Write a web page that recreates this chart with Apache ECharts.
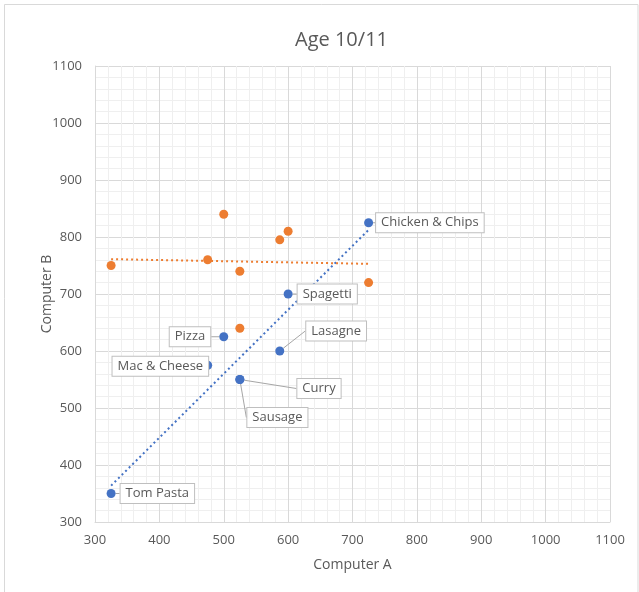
<!DOCTYPE html>
<html>
<head>
<meta charset="utf-8">
<script src="https://cdn.jsdelivr.net/npm/echarts@6/dist/echarts.min.js"></script>
<style>html,body{margin:0;padding:0;background:#fff}#c{width:639px;height:592px}</style>
</head>
<body>
<div id="c"></div>
<script>
const foods = ['Tom Pasta', 'Chicken & Chips', 'Spagetti', 'Lasagne', 'Pizza', 'Mac & Cheese', 'Curry', 'Sausage'];
const computerA = [325, 725, 600, 587, 500, 475, 525, 525];
const computerB = [350, 825, 700, 600, 625, 575, 550, 550];
const otherA = [325, 500, 475, 525, 587, 600, 725, 525];
const otherB = [750, 840, 760, 740, 795, 810, 720, 640];
const axisTicks = [300, 400, 500, 600, 700, 800, 900, 1000, 1100];

// label placement styling (pixel nudges, not data)
const labelStyle = [
  {pos: 'right', dist: 5, dx: 0, dy: 0},
  {pos: 'right', dist: 3, dx: 0, dy: 0},
  {pos: 'right', dist: 5, dx: 0, dy: 0},
  {pos: 'right', dist: 5, dx: 17, dy: -20},
  {pos: 'left', dist: 9, dx: 0, dy: 0},
  {pos: 'left', dist: 5, dx: 10, dy: 1},
  {pos: 'right', dist: 5, dx: 48, dy: 9},
  {pos: 'right', dist: 5, dx: -2, dy: 38}
];

function regression(xs, ys) {
  const n = xs.length;
  const mx = xs.reduce((a, b) => a + b, 0) / n;
  const my = ys.reduce((a, b) => a + b, 0) / n;
  let sxy = 0, sxx = 0;
  for (let i = 0; i < n; i++) { sxy += (xs[i] - mx) * (ys[i] - my); sxx += (xs[i] - mx) ** 2; }
  const m = sxy / sxx, b = my - m * mx;
  const lo = Math.min(...xs), hi = Math.max(...xs);
  return [[lo, m * lo + b], [hi, m * hi + b]];
}

const blue = '#4472C4', orange = '#ED7D31', txt = '#595959';
const font = 'Open Sans';

const blueData = foods.map((f, i) => ({
  name: f,
  value: [computerA[i], computerB[i]],
  label: {position: labelStyle[i].pos, distance: labelStyle[i].dist}
}));
const orangeData = otherA.map((x, i) => [x, otherB[i]]);

const axisCommon = {
  type: 'value', min: axisTicks[0], max: axisTicks[axisTicks.length - 1], interval: 100,
  axisLine: {show: true, lineStyle: {color: '#d9d9d9'}},
  axisTick: {show: false},
  axisLabel: {color: txt, fontSize: 13, fontFamily: font, formatter: v => String(v)},
  splitLine: {show: true, lineStyle: {color: '#d9d9d9', width: 1}},
  minorTick: {show: false, splitNumber: 5},
  minorSplitLine: {show: true, lineStyle: {color: '#efefef', width: 1}},
  nameLocation: 'middle',
  nameMoveOverlap: false,
  nameTextStyle: {color: txt, fontSize: 14, fontFamily: font}
};

const chart = echarts.init(document.getElementById('c'), null, {renderer: 'canvas'});
chart.setOption({
  animation: false,
  backgroundColor: '#fff',
  title: {text: 'Age 10/11', left: 290, top: 25, textStyle: {color: txt, fontSize: 20, fontWeight: 'normal', fontFamily: font}},
  grid: {left: 95, right: 29, top: 66, bottom: 70},
  graphic: [{type: 'rect', shape: {x: 4.5, y: 4.5, width: 633.5, height: 600}, style: {fill: 'none', stroke: '#d9d9d9', lineWidth: 1}, silent: true}],
  xAxis: Object.assign({}, axisCommon, {name: 'Computer A', nameGap: 36, axisLabel: Object.assign({}, axisCommon.axisLabel, {margin: 12})}),
  yAxis: Object.assign({}, axisCommon, {name: 'Computer B', nameGap: 41, axisLabel: Object.assign({}, axisCommon.axisLabel, {margin: 13})}),
  series: [
    {
      type: 'line', data: regression(computerA, computerB), symbol: 'none', silent: true,
      lineStyle: {color: blue, width: 2, type: [2, 3]}, z: 1
    },
    {
      type: 'line', data: regression(otherA, otherB), symbol: 'none', silent: true,
      lineStyle: {color: orange, width: 2, type: [2, 3]}, z: 1
    },
    {
      type: 'scatter', data: blueData, symbolSize: 9, itemStyle: {color: blue, opacity: 1}, z: 3,
      label: {
        show: true, formatter: '{b}', color: txt, fontSize: 13, fontFamily: font,
        backgroundColor: '#fff', borderColor: '#bfbfbf', borderWidth: 1, padding: [3, 5, 3, 5]
      },
      labelLine: {show: true, lineStyle: {color: '#a6a6a6', width: 1}},
      labelLayout: function (p) { return {dx: labelStyle[p.dataIndex].dx, dy: labelStyle[p.dataIndex].dy}; }
    },
    {
      type: 'scatter', data: orangeData, symbolSize: 9, itemStyle: {color: orange, opacity: 1}, z: 2
    }
  ]
});
</script>
</body>
</html>
